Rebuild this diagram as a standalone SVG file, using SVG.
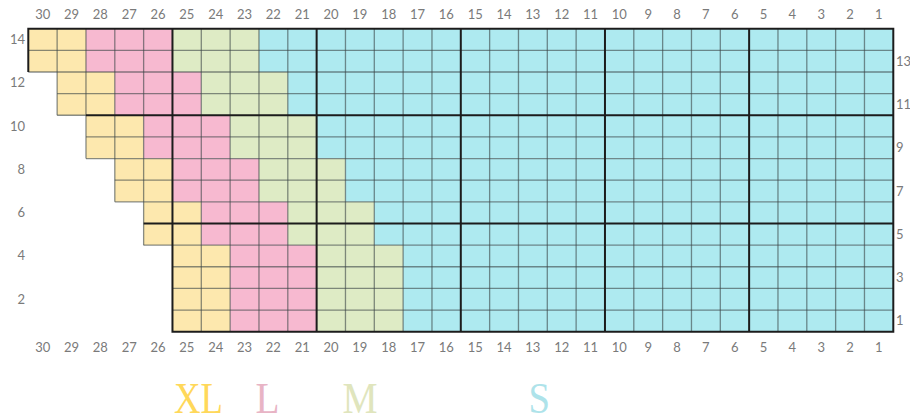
<svg xmlns="http://www.w3.org/2000/svg" width="910" height="418" viewBox="0 0 910 418">
<style>
.y{fill:#FDE8AE}.p{fill:#F7B9D0}.g{fill:#DEEBC5}.b{fill:#AEEAF0}
.t{stroke:#3a4446;stroke-opacity:0.6;stroke-width:1.3;fill:none}
.k{stroke:#1c1c1c;stroke-width:2;fill:none}
.n{font-family:Lato,"Liberation Sans",sans-serif;font-size:13px;fill:#7a7a7a}
.c{text-anchor:middle}.e{text-anchor:end}
.lg{font-family:"Liberation Serif",serif;font-size:45px}
</style>
<rect width="910" height="418" fill="#fff"/>
<g id="cells">
<rect class="y" x="28.3" y="28.7" width="57.67" height="43.29"/>
<rect class="p" x="85.97" y="28.7" width="86.5" height="43.29"/>
<rect class="g" x="172.47" y="28.7" width="86.5" height="43.29"/>
<rect class="b" x="258.97" y="28.7" width="634.33" height="43.29"/>
<rect class="y" x="57.13" y="71.99" width="57.67" height="43.28"/>
<rect class="p" x="114.8" y="71.99" width="86.5" height="43.28"/>
<rect class="g" x="201.3" y="71.99" width="86.5" height="43.28"/>
<rect class="b" x="287.8" y="71.99" width="605.5" height="43.28"/>
<rect class="y" x="85.97" y="115.27" width="57.66" height="43.29"/>
<rect class="p" x="143.63" y="115.27" width="86.5" height="43.29"/>
<rect class="g" x="230.13" y="115.27" width="86.5" height="43.29"/>
<rect class="b" x="316.63" y="115.27" width="576.67" height="43.29"/>
<rect class="y" x="114.8" y="158.56" width="57.67" height="43.28"/>
<rect class="p" x="172.47" y="158.56" width="86.5" height="43.28"/>
<rect class="g" x="258.97" y="158.56" width="86.5" height="43.28"/>
<rect class="b" x="345.47" y="158.56" width="547.83" height="43.28"/>
<rect class="y" x="143.63" y="201.84" width="57.67" height="43.29"/>
<rect class="p" x="201.3" y="201.84" width="86.5" height="43.29"/>
<rect class="g" x="287.8" y="201.84" width="86.5" height="43.29"/>
<rect class="b" x="374.3" y="201.84" width="519" height="43.29"/>
<rect class="y" x="172.47" y="245.13" width="57.66" height="86.57"/>
<rect class="p" x="230.13" y="245.13" width="86.5" height="86.57"/>
<rect class="g" x="316.63" y="245.13" width="86.5" height="86.57"/>
<rect class="b" x="403.13" y="245.13" width="490.17" height="86.57"/>
</g>
<g id="connectors">
<path class="t" d="M28.3 50.34H893.3M28.3 71.99H893.3M57.13 93.63H893.3M57.13 115.27H85.97M85.97 136.92H893.3M85.97 158.56H893.3M114.8 180.2H893.3M114.8 201.84H893.3M143.63 245.13H893.3M172.47 266.77H893.3M172.47 288.41H893.3M172.47 310.06H893.3"/>
<path class="t" d="M57.13 28.7V115.27M85.97 28.7V158.56M114.8 28.7V201.84M143.63 28.7V245.13M201.3 28.7V331.7M230.13 28.7V331.7M258.97 28.7V331.7M287.8 28.7V331.7M345.47 28.7V331.7M374.3 28.7V331.7M403.13 28.7V331.7M431.97 28.7V331.7M489.63 28.7V331.7M518.47 28.7V331.7M547.3 28.7V331.7M576.13 28.7V331.7M633.8 28.7V331.7M662.63 28.7V331.7M691.47 28.7V331.7M720.3 28.7V331.7M777.97 28.7V331.7M806.8 28.7V331.7M835.63 28.7V331.7M864.47 28.7V331.7"/>
<path class="k" d="M28.3 71.99V28.7H893.3V331.7H172.47V28.7M316.63 28.7V331.7M460.8 28.7V331.7M604.97 28.7V331.7M749.13 28.7V331.7M85.97 115.27H893.3M143.63 223.49H893.3"/>
</g>
<g id="col-labels-top" class="n c">
<text x="42.72" y="19">30</text><text x="71.55" y="19">29</text><text x="100.38" y="19">28</text><text x="129.22" y="19">27</text><text x="158.05" y="19">26</text><text x="186.88" y="19">25</text><text x="215.72" y="19">24</text><text x="244.55" y="19">23</text><text x="273.38" y="19">22</text><text x="302.22" y="19">21</text><text x="331.05" y="19">20</text><text x="359.88" y="19">19</text><text x="388.72" y="19">18</text><text x="417.55" y="19">17</text><text x="446.38" y="19">16</text><text x="475.22" y="19">15</text><text x="504.05" y="19">14</text><text x="532.88" y="19">13</text><text x="561.72" y="19">12</text><text x="590.55" y="19">11</text><text x="619.38" y="19">10</text><text x="648.22" y="19">9</text><text x="677.05" y="19">8</text><text x="705.88" y="19">7</text><text x="734.72" y="19">6</text><text x="763.55" y="19">5</text><text x="792.38" y="19">4</text><text x="821.22" y="19">3</text><text x="850.05" y="19">2</text><text x="878.88" y="19">1</text>
</g>
<g id="col-labels-bottom" class="n c">
<text x="42.72" y="352">30</text><text x="71.55" y="352">29</text><text x="100.38" y="352">28</text><text x="129.22" y="352">27</text><text x="158.05" y="352">26</text><text x="186.88" y="352">25</text><text x="215.72" y="352">24</text><text x="244.55" y="352">23</text><text x="273.38" y="352">22</text><text x="302.22" y="352">21</text><text x="331.05" y="352">20</text><text x="359.88" y="352">19</text><text x="388.72" y="352">18</text><text x="417.55" y="352">17</text><text x="446.38" y="352">16</text><text x="475.22" y="352">15</text><text x="504.05" y="352">14</text><text x="532.88" y="352">13</text><text x="561.72" y="352">12</text><text x="590.55" y="352">11</text><text x="619.38" y="352">10</text><text x="648.22" y="352">9</text><text x="677.05" y="352">8</text><text x="705.88" y="352">7</text><text x="734.72" y="352">6</text><text x="763.55" y="352">5</text><text x="792.38" y="352">4</text><text x="821.22" y="352">3</text><text x="850.05" y="352">2</text><text x="878.88" y="352">1</text>
</g>
<g id="row-labels-left" class="n e">
<text x="25" y="44">14</text><text x="25" y="87.3">12</text><text x="25" y="130.6">10</text><text x="25" y="173.9">8</text><text x="25" y="217.2">6</text><text x="25" y="260.4">4</text><text x="25" y="303.7">2</text>
</g>
<g id="row-labels-right" class="n">
<text x="896" y="65.7">13</text><text x="896" y="109">11</text><text x="896" y="152.2">9</text><text x="896" y="195.5">7</text><text x="896" y="238.8">5</text><text x="896" y="282.1">3</text><text x="896" y="325.4">1</text>
</g>
<g id="legend" class="lg">
<text x="174" y="413.3" fill="#FFD85A" textLength="49" lengthAdjust="spacingAndGlyphs">XL</text>
<text x="255.5" y="413.3" fill="#E8B4C5" textLength="24" lengthAdjust="spacingAndGlyphs">L</text>
<text x="342.5" y="413.3" fill="#E0E5BD" textLength="35" lengthAdjust="spacingAndGlyphs">M</text>
<text x="528.5" y="413.3" fill="#AEE3EA" textLength="21.5" lengthAdjust="spacingAndGlyphs">S</text>
</g>
</svg>
